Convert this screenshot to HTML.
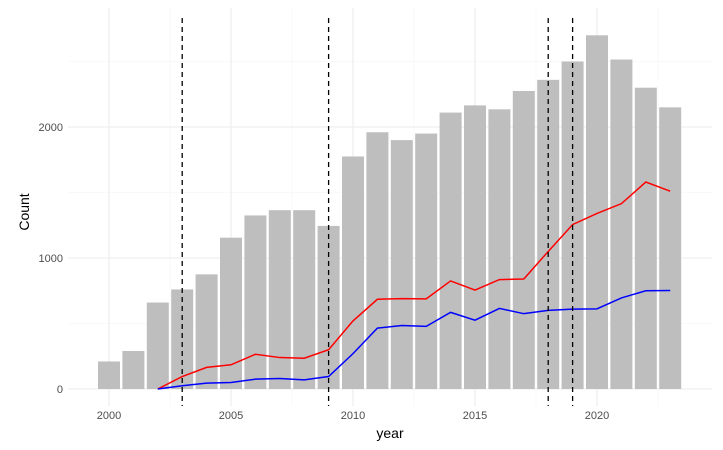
<!DOCTYPE html>
<html><head><meta charset="utf-8"><style>
html,body{margin:0;padding:0;background:#fff;}
svg{display:block;font-family:"Liberation Sans",sans-serif;}
</style></head><body>
<svg id="s" width="723" height="450" xmlns="http://www.w3.org/2000/svg"></svg>
<script>
const s=document.getElementById('s');
const X=y=>109+(y-2000)*24.4, Y=v=>389-v*0.131;
let h='';
const L=68,R=712,T=8,B=406;
// minor grid
for(let v of [500,1500,2500]) h+=`<line x1="${L}" x2="${R}" y1="${Y(v)}" y2="${Y(v)}" stroke="#f3f3f3" stroke-width="0.6"/>`;
for(let yr of [1997.5,2002.5,2007.5,2012.5,2017.5,2022.5]) {const x=X(yr); if(x>L&&x<R) h+=`<line x1="${x}" x2="${x}" y1="${T}" y2="${B}" stroke="#f3f3f3" stroke-width="0.6"/>`;}
for(let v of [0,1000,2000]) h+=`<line x1="${L}" x2="${R}" y1="${Y(v)}" y2="${Y(v)}" stroke="#ebebeb" stroke-width="1.1"/>`;
for(let yr of [2000,2005,2010,2015,2020]) h+=`<line x1="${X(yr)}" x2="${X(yr)}" y1="${T}" y2="${B}" stroke="#ebebeb" stroke-width="1.1"/>`;
const bars=[210,290,660,760,875,1155,1325,1365,1365,1245,1775,1960,1900,1950,2110,2165,2135,2275,2360,2500,2700,2515,2300,2150];
bars.forEach((v,i)=>{const x=X(2000+i);h+=`<rect x="${x-11}" y="${Y(v)}" width="22" height="${v*0.131}" fill="#bebebe"/>`;});
const red=[0,95,165,185,265,240,235,300,520,685,690,688,825,755,835,840,1050,1255,1340,1415,1580,1510];
const blue=[0,25,45,50,75,80,70,95,270,465,485,478,585,525,615,575,600,610,612,695,750,752];
const pts=a=>a.map((v,i)=>`${X(2002+i)},${Y(v)}`).join(' ');
h+=`<polyline points="${pts(red)}" fill="none" stroke="#ff0000" stroke-width="1.5"/>`;
h+=`<polyline points="${pts(blue)}" fill="none" stroke="#0000ff" stroke-width="1.5"/>`;
for(let yr of [2003,2009,2018,2019]) h+=`<line x1="${X(yr)}" x2="${X(yr)}" y1="${T+10}" y2="${B}" stroke="#000" stroke-width="1.3" stroke-dasharray="5,4"/>`;
for(let v of [0,1000,2000]) h+=`<text x="63" y="${Y(v)+4}" text-anchor="end" font-size="11" fill="#4d4d4d">${v}</text>`;
for(let yr of [2000,2005,2010,2015,2020]) h+=`<text x="${X(yr)}" y="419" text-anchor="middle" font-size="11" fill="#4d4d4d">${yr}</text>`;
h+=`<text x="390" y="438" text-anchor="middle" font-size="14" fill="#000">year</text>`;
h+=`<text transform="translate(29,212) rotate(-90)" text-anchor="middle" font-size="14" fill="#000">Count</text>`;
s.innerHTML=h;
</script>
</body></html>
